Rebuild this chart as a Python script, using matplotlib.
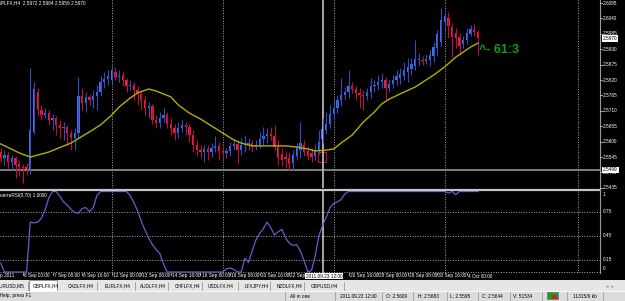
import numpy as np
import matplotlib
matplotlib.use("Agg")
import matplotlib.pyplot as plt
from matplotlib import font_manager
from matplotlib.patches import Rectangle
from matplotlib.lines import Line2D

# GBPLFX,H4 bars, bar 0 = 5 Sep 2011 00:00
opens = [2.5563, 2.5542, 2.5552, 2.5527, 2.5542, 2.5520, 2.5510, 2.5510, 2.5499, 2.5635,
         2.5777, 2.5713, 2.5695, 2.5702, 2.5677, 2.5685, 2.5660, 2.5649, 2.5652, 2.5631,
         2.5613, 2.5631, 2.5763, 2.5738, 2.5760, 2.5749, 2.5763, 2.5777, 2.5813, 2.5824,
         2.5820, 2.5849, 2.5831, 2.5835, 2.5820, 2.5799, 2.5802, 2.5785, 2.5770, 2.5749,
         2.5720, 2.5727, 2.5677, 2.5667, 2.5685, 2.5695, 2.5663, 2.5649, 2.5631, 2.5649,
         2.5660, 2.5652, 2.5624, 2.5588, 2.5570, 2.5563, 2.5574, 2.5563, 2.5577, 2.5585,
         2.5567, 2.5560, 2.5567, 2.5585, 2.5592, 2.5570, 2.5588, 2.5592, 2.5595, 2.5581,
         2.5588, 2.5610, 2.5620, 2.5627, 2.5620, 2.5581, 2.5556, 2.5545, 2.5542, 2.5524,
         2.5549, 2.5570, 2.5588, 2.5567, 2.5560, 2.5549, 2.5570, 2.5609, 2.5642, 2.5663,
         2.5699, 2.5720, 2.5749, 2.5767, 2.5777, 2.5799, 2.5788, 2.5774, 2.5767, 2.5763,
         2.5777, 2.5799, 2.5802, 2.5813, 2.5820, 2.5792, 2.5806, 2.5820, 2.5827, 2.5835,
         2.5849, 2.5860, 2.5870, 2.5892, 2.5892, 2.5888, 2.5892, 2.5906, 2.5935, 2.5956,
         2.6027, 2.6042, 2.6010, 2.5988, 2.5974, 2.5949, 2.5963, 2.5985, 2.5999, 2.5992]
highs = [2.5577, 2.5570, 2.5563, 2.5552, 2.5549, 2.5535, 2.5520, 2.5524, 2.5863, 2.5813,
         2.5792, 2.5731, 2.5720, 2.5713, 2.5699, 2.5692, 2.5677, 2.5670, 2.5660, 2.5642,
         2.5649, 2.5831, 2.5792, 2.5777, 2.5770, 2.5785, 2.5802, 2.5835, 2.5849, 2.5856,
         2.5874, 2.5867, 2.5856, 2.5849, 2.5827, 2.5820, 2.5813, 2.5799, 2.5785, 2.5763,
         2.5742, 2.5735, 2.5695, 2.5706, 2.5720, 2.5706, 2.5685, 2.5663, 2.5670, 2.5677,
         2.5670, 2.5663, 2.5642, 2.5606, 2.5588, 2.5588, 2.5588, 2.5595, 2.5620, 2.5599,
         2.5585, 2.5577, 2.5599, 2.5613, 2.5606, 2.5613, 2.5624, 2.5613, 2.5606, 2.5606,
         2.5635, 2.5652, 2.5649, 2.5652, 2.5660, 2.5606, 2.5577, 2.5563, 2.5563, 2.5570,
         2.5595, 2.5670, 2.5606, 2.5585, 2.5577, 2.5592, 2.5642, 2.5683, 2.5706, 2.5731,
         2.5749, 2.5767, 2.5827, 2.5795, 2.5856, 2.5813, 2.5799, 2.5792, 2.5785, 2.5792,
         2.5827, 2.5820, 2.5838, 2.5845, 2.5831, 2.5820, 2.5838, 2.5856, 2.5863, 2.5885,
         2.5899, 2.5899, 2.5963, 2.5917, 2.5906, 2.5913, 2.5927, 2.5956, 2.5999, 2.6077,
         2.6063, 2.6063, 2.6020, 2.6006, 2.5988, 2.5977, 2.6006, 2.6017, 2.6020, 2.5999]
lows = [2.5527, 2.5517, 2.5506, 2.5499, 2.5470, 2.5477, 2.5452, 2.5481, 2.5485, 2.5627,
        2.5692, 2.5677, 2.5685, 2.5660, 2.5642, 2.5624, 2.5613, 2.5606, 2.5588, 2.5570,
        2.5570, 2.5613, 2.5713, 2.5706, 2.5731, 2.5720, 2.5713, 2.5763, 2.5792, 2.5802,
        2.5806, 2.5820, 2.5813, 2.5799, 2.5777, 2.5785, 2.5749, 2.5731, 2.5713, 2.5695,
        2.5685, 2.5663, 2.5649, 2.5649, 2.5670, 2.5649, 2.5624, 2.5606, 2.5613, 2.5635,
        2.5624, 2.5599, 2.5563, 2.5549, 2.5542, 2.5527, 2.5535, 2.5545, 2.5563, 2.5535,
        2.5527, 2.5542, 2.5549, 2.5570, 2.5524, 2.5552, 2.5563, 2.5570, 2.5563, 2.5570,
        2.5577, 2.5585, 2.5595, 2.5606, 2.5570, 2.5517, 2.5513, 2.5506, 2.5499, 2.5499,
        2.5535, 2.5542, 2.5549, 2.5535, 2.5527, 2.5535, 2.5556, 2.5595, 2.5627, 2.5649,
        2.5677, 2.5702, 2.5727, 2.5749, 2.5756, 2.5774, 2.5749, 2.5720, 2.5713, 2.5749,
        2.5756, 2.5777, 2.5785, 2.5792, 2.5749, 2.5777, 2.5792, 2.5802, 2.5806, 2.5820,
        2.5813, 2.5838, 2.5856, 2.5870, 2.5874, 2.5877, 2.5870, 2.5885, 2.5910, 2.5942,
        2.5992, 2.5970, 2.5902, 2.5935, 2.5910, 2.5935, 2.5949, 2.5977, 2.5977, 2.5910]
closes = [2.5542, 2.5552, 2.5527, 2.5542, 2.5517, 2.5510, 2.5506, 2.5499, 2.5642, 2.5788,
          2.5713, 2.5695, 2.5702, 2.5677, 2.5685, 2.5660, 2.5649, 2.5652, 2.5631, 2.5613,
          2.5631, 2.5763, 2.5738, 2.5760, 2.5749, 2.5763, 2.5777, 2.5813, 2.5824, 2.5835,
          2.5856, 2.5831, 2.5835, 2.5820, 2.5799, 2.5802, 2.5785, 2.5770, 2.5749, 2.5720,
          2.5727, 2.5677, 2.5667, 2.5685, 2.5695, 2.5663, 2.5649, 2.5631, 2.5649, 2.5660,
          2.5652, 2.5624, 2.5588, 2.5570, 2.5563, 2.5574, 2.5563, 2.5577, 2.5585, 2.5567,
          2.5560, 2.5567, 2.5585, 2.5592, 2.5570, 2.5588, 2.5592, 2.5595, 2.5581, 2.5588,
          2.5610, 2.5620, 2.5627, 2.5620, 2.5581, 2.5542, 2.5535, 2.5538, 2.5520, 2.5552,
          2.5577, 2.5595, 2.5563, 2.5549, 2.5545, 2.5570, 2.5599, 2.5644, 2.5663, 2.5699,
          2.5720, 2.5749, 2.5767, 2.5777, 2.5799, 2.5788, 2.5774, 2.5767, 2.5763, 2.5777,
          2.5799, 2.5802, 2.5813, 2.5820, 2.5792, 2.5806, 2.5820, 2.5835, 2.5842, 2.5856,
          2.5867, 2.5877, 2.5895, 2.5895, 2.5888, 2.5895, 2.5910, 2.5938, 2.5985, 2.6035,
          2.6049, 2.6013, 2.5974, 2.5970, 2.5942, 2.5963, 2.5988, 2.6002, 2.5992, 2.5970]

# moving average (yellow line)
ma_bars = [0, 5, 8, 13, 19, 24, 27, 30, 32, 35, 37, 40, 42, 46, 48, 51, 54, 57, 60, 63,
           65, 68, 72, 77, 80, 83, 85, 88, 90, 92, 95, 98, 101, 103, 105, 109, 112, 117,
           120, 123, 127, 129]
ma_vals = [2.5592, 2.5560, 2.5545, 2.5563, 2.5595, 2.5635, 2.5660, 2.5695, 2.5724, 2.5756,
           2.5774, 2.5788, 2.5781, 2.5760, 2.5731, 2.5702, 2.5681, 2.5656, 2.5631, 2.5606,
           2.5595, 2.5585, 2.5585, 2.5585, 2.5581, 2.5574, 2.5567, 2.5570, 2.5574, 2.5595,
           2.5624, 2.5670, 2.5706, 2.5735, 2.5752, 2.5777, 2.5795, 2.5838, 2.5867, 2.5902,
           2.5938, 2.5952]

# LaguerreRSI(0.70)
lrsi_bars = [0, 1, 7, 8, 9, 10, 11, 12, 13, 14, 15, 16, 17, 18, 19, 20, 21, 22, 23, 24,
             25, 26, 27, 34, 35, 36, 37, 38, 39, 40, 41, 42, 43, 44, 45, 60, 61, 62, 63, 64,
             65, 66, 67, 68, 69, 70, 71, 72, 73, 74, 75, 76, 77, 78, 79, 80, 81, 82, 83, 84,
             85, 86, 87, 88, 89, 90, 91, 92, 93, 94, 120, 121, 122, 123, 124, 129]
lrsi_vals = [0.11, 0.0, 0.0, 0.62, 0.61, 0.62, 0.67, 0.77, 0.92, 1.0, 1.0, 0.94, 0.87, 0.83,
             0.78, 0.74, 0.73, 0.79, 0.80, 0.75, 0.80, 0.95, 1.0, 1.0, 0.95, 0.86, 0.76, 0.63,
             0.52, 0.42, 0.34, 0.28, 0.23, 0.10, 0.0, 0.0, 0.04, 0.05, 0.03, 0.0, 0.0, 0.17,
             0.12, 0.27, 0.40, 0.48, 0.54, 0.62, 0.55, 0.46, 0.50, 0.53, 0.42, 0.36, 0.33,
             0.34, 0.26, 0.14, 0.0, 0.02, 0.20, 0.45, 0.58, 0.68, 0.80, 0.85, 0.87, 0.90, 0.97,
             1.0, 1.0, 0.98, 1.0, 0.96, 1.0, 1.0]

price_ticks = [2.6095, 2.6040, 2.5985, 2.5930, 2.5875, 2.5820, 2.5765, 2.5710, 2.5655,
               2.5600, 2.5545, 2.5490, 2.5435]
lrsi_levels = [0.75, 0.45, 0.15]
time_bars = [6, 14, 22, 30, 38, 46, 54, 62, 70, 78, 94, 102, 110, 118, 126]
time_labels = ["6 Sep 00:00", "7 Sep 08:00", "8 Sep 16:00", "12 Sep 00:00", "13 Sep 08:00",
               "14 Sep 16:00", "16 Sep 00:00", "19 Sep 08:00", "20 Sep 16:00", "22 Sep 00:00",
               "26 Sep 16:00", "28 Sep 00:00", "29 Sep 08:00", "30 Sep 16:00", "4 Oct 00:00"]
grid_bars = [30, 60, 90, 120, 156]
tabs = ["EURUSD,M5", "GBPLFX,H4", "CADLFX,H4", "EURLFX,H4", "AUDLFX,H4", "CHFLFX,H4",
        "USDLFX,H4", "LFXJPY,H4", "NZDLFX,H4", "GBPUSD,H4"]
tab_x = [-3, 33, 68, 105, 140, 175, 208, 245, 277, 311]

hline_price = 2.5499
vline_bar = 87
current_price = 2.5970
marker_bar, marker_price = 86.8, 2.5545
note_bar, note_price = 129.3, 2.5929

W, H = 625, 301
BAR0, STEP = 0.7, 3.7
PTOP, PSCALE = 2.6106, 2800.0

try:
    font_manager.findfont("Liberation Sans Narrow", fallback_to_default=False)
    FAM = ["Liberation Sans Narrow", "DejaVu Sans"]
    FS = 4.0
except ValueError:
    FAM = ["Liberation Sans", "DejaVu Sans"]
    FS = 3.4

fig = plt.figure(figsize=(W / 100, H / 100), dpi=100, facecolor="black")


def fx(x):
    return x / W


def fy(y):
    return 1 - y / H


def bx(i):
    return BAR0 + STEP * i


small = dict(fontsize=FS, family=FAM)

# main price panel
ax = fig.add_axes([0, fy(188), 600 / W, 188 / H])
ax.set_facecolor("black")
ax.set_xlim(-BAR0 / STEP, (600 - BAR0) / STEP)
ax.set_ylim(PTOP - 188 / PSCALE, PTOP)
ax.axis("off")

for g in grid_bars:
    ax.axvline(g, color="#a8a8a8", lw=0.7, ls=(0, (1, 1.6)))
ax.axhline(hline_price, color="#8a8a8a", lw=1.3)
ax.axvline(vline_bar, color="#b4b4b4", lw=1.3)

idx = np.arange(len(closes))
o = np.array(opens)
c = np.array(closes)
h = np.array(highs)
l = np.array(lows)
up = c >= o
body_col = np.where(up, "#4070ee", "#ee1a4c")
wick_col = np.where(up, "#2c50c0", "#b8123c")
ax.vlines(idx, l, h, colors=wick_col, lw=0.8)
ax.bar(idx, np.maximum(np.abs(c - o), 0.00012), bottom=np.minimum(o, c),
       width=0.62, color=body_col, linewidth=0)
ax.plot(ma_bars, ma_vals, color="#b5ad00", lw=1.0)
ax.add_patch(Rectangle((marker_bar - 1.0, marker_price - 0.0018), 2.0, 0.0036,
                       fill=False, edgecolor="#c01030", lw=0.8))
ax.text(note_bar, note_price, "^- 61:3", color="#0aa010", fontsize=9,
        fontweight="bold", family=FAM, va="center")

# indicator panel
ax2 = fig.add_axes([0, fy(273), 600 / W, 83 / H])
ax2.set_facecolor("black")
ax2.set_xlim(-BAR0 / STEP, (600 - BAR0) / STEP)
ax2.set_ylim(-1 / 80.5, 82 / 80.5)
ax2.axis("off")
for g in grid_bars:
    ax2.axvline(g, color="#a8a8a8", lw=0.7, ls=(0, (1, 1.6)))
for lv in lrsi_levels:
    ax2.axhline(lv, color="#a8a8a8", lw=0.7, ls=(0, (1, 1.6)))
ax2.axhline(0, color="#a8a8a8", lw=0.7, ls=(0, (1, 1.6)))
ax2.axvline(vline_bar, color="#b4b4b4", lw=1.3)
ax2.plot(lrsi_bars, lrsi_vals, color="#6a5acd", lw=0.9)

# frame lines
fig.add_artist(Line2D([fx(0), fx(600)], [fy(190), fy(190)], color="#c4c4c4", lw=1.6))
fig.add_artist(Line2D([fx(600), fx(600)], [fy(0), fy(273)], color="#9a9a9a", lw=0.8))

# price scale
for p in price_ticks:
    y = (PTOP - p) * PSCALE
    fig.add_artist(Line2D([fx(600), fx(602)], [fy(y), fy(y)], color="#c0c0c0", lw=0.6))
    fig.text(fx(603), fy(y), f"{p:.4f}", color="white", va="center", ha="left", **small)
for p in [current_price, hline_price]:
    y = (PTOP - p) * PSCALE
    fig.text(fx(603), fy(y), f"{p:.4f}", color="black", va="center", ha="left",
             bbox=dict(boxstyle="square,pad=0.2", fc="white", ec="none"), **small)

# indicator scale
for lv, lab in [(1.0, "1"), (0.75, "0.75"), (0.45, "0.45"), (0.15, "0.15"), (0.0, "0")]:
    y = 272 - lv * 80.5
    yy = min(max(y, 194), 269)
    fig.text(fx(603), fy(yy), lab, color="white", va="center", ha="left", **small)

# titles
fig.text(fx(-6), fy(3), "GBPLFX,H4  2.5972 2.5984 2.5959 2.5970", color="white",
         va="center", ha="left", **small)
fig.text(fx(-8), fy(195), "LaguerreRSI(0.70) 1.0000", color="white",
         va="center", ha="left", **small)

# time scale
fig.text(fx(-10), fy(276), "5 Sep 2011", color="white", va="center", ha="left", **small)
for b, lab in zip(time_bars, time_labels):
    x = bx(b)
    fig.add_artist(Line2D([fx(x), fx(x)], [fy(273), fy(275)], color="#c0c0c0", lw=0.6))
    fig.text(fx(x + 1), fy(276), lab, color="white", va="center", ha="left", **small)
fig.text(fx(306), fy(276), "2011.09.23 12:00", color="black", va="center", ha="left",
         bbox=dict(boxstyle="square,pad=0.2", fc="white", ec="none"), **small)

# tab bar
fig.add_artist(Rectangle((0, fy(291)), 1, 11 / H, transform=fig.transFigure,
                         fc="#e6e6e6", ec="none"))
fig.add_artist(Rectangle((fx(29), fy(291)), 28 / W, 11 / H, transform=fig.transFigure,
                         fc="white", ec="#808080", lw=0.6))
for name, x in zip(tabs, tab_x):
    fig.text(fx(x), fy(286), name, color="black", va="center", ha="left", **small)
for x in [28, 97, 135, 168, 202, 238, 270, 304, 344]:
    fig.add_artist(Line2D([fx(x), fx(x)], [fy(282), fy(290)], color="#9a9a9a", lw=0.6))
fig.text(fx(606), fy(286), "\u25c2  \u25b8", color="#909090", va="center", ha="left",
         fontsize=3.5)

# status bar
fig.add_artist(Rectangle((0, 0), 1, 10 / H, transform=fig.transFigure,
                         fc="#dcdcdc", ec="none"))
fig.add_artist(Line2D([0, 1], [fy(291), fy(291)], color="#ffffff", lw=0.6))
fig.text(fx(-9), fy(296), "For Help, press F1", color="black", va="center", ha="left", **small)
status = [(290, "All in one"), (340, "2011.09.23 12:00"), (386, "O: 2.5609"),
          (418, "H: 2.5683"), (450, "L: 2.5595"), (482, "C: 2.5644"),
          (513, "V: 51534"), (573, "11315/6 kb")]
for x, s in status:
    fig.text(fx(x), fy(296), s, color="black", va="center", ha="left", **small)
for x in [285, 335, 382, 413, 447, 478, 510, 542, 567, 603]:
    fig.add_artist(Line2D([fx(x), fx(x)], [fy(292), fy(300)], color="#a0a0a0", lw=0.6))
fig.add_artist(Rectangle((fx(547), fy(299)), 11 / W, 7 / H, transform=fig.transFigure,
                         fc="#1a9a30", ec="#606060", lw=0.4))
fig.add_artist(Rectangle((fx(552), fy(299)), 5 / W, 4 / H, transform=fig.transFigure,
                         fc="#d02020", ec="none"))

fig.savefig("out.png", dpi=100, facecolor="black")
